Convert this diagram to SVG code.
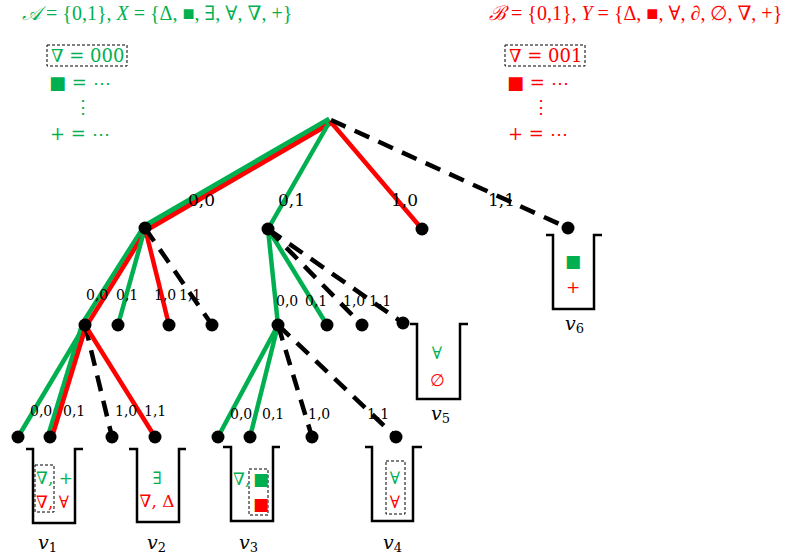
<svg xmlns="http://www.w3.org/2000/svg" width="790" height="559" viewBox="0 0 790 559">
<style>
.g{fill:#00B050}
.r{fill:#FF0000}
.t{font-family:"DejaVu Serif","Liberation Serif",serif}
.h{font-family:"Liberation Serif","DejaVu Serif",serif;font-size:20px}
.hd{font-size:18px}
.lb1{font-size:17px;fill:#000}
.lb2{font-size:14px;fill:#000}
.sym{font-size:17px}
.it{font-style:italic}
.eg{stroke:#00B050;stroke-width:4.5;fill:none}
.eg2{stroke:#00B050;stroke-width:7.5;fill:none}
.er{stroke:#FF0000;stroke-width:4.5;fill:none}
.ed{stroke:#000;stroke-width:4.5;stroke-dasharray:16 10;fill:none}
.dot{fill:#000}
.bk{stroke:#000;stroke-width:2.5;fill:none}
.db{stroke:#000;stroke-width:1;stroke-dasharray:3 2;fill:none}
.vl{font-family:"DejaVu Serif","Liberation Serif",serif;font-style:italic;font-size:19px;fill:#000}
.sub{font-size:13px;font-style:normal}
</style>

<g id="legend-left">
  <text class="h g" x="22" y="20" font-size="20.5"><tspan class="it">𝒜</tspan> = {0,1}, <tspan class="it">X</tspan> = {Δ, ■, ∃, ∀, <tspan class="it">∇</tspan>, +}</text>
  <rect class="db" x="47" y="45" width="80" height="21"/>
  <text class="t hd g" x="51" y="62"><tspan class="it">∇</tspan> = 000</text>
  <text class="t hd g" x="49" y="89">■ = ⋯</text>
  <text class="t hd g" x="74" y="113">⋮</text>
  <text class="t hd g" x="50" y="140">+ = ⋯</text>
</g>

<g id="legend-right">
  <text class="h r" x="489" y="20"><tspan class="it">ℬ</tspan> = {0,1}, <tspan class="it">Y</tspan> = {Δ, ■, ∀, <tspan class="it">∂</tspan>, ∅, <tspan class="it">∇</tspan>, +}</text>
  <rect class="db" x="505" y="45" width="80" height="21"/>
  <text class="t hd r" x="509" y="62"><tspan class="it">∇</tspan> = 001</text>
  <text class="t hd r" x="507" y="89">■ = ⋯</text>
  <text class="t hd r" x="532" y="113">⋮</text>
  <text class="t hd r" x="508" y="140">+ = ⋯</text>
</g>

<g id="connectors">
  <line class="eg2" x1="330" y1="120" x2="145" y2="227"/>
  <line class="er" x1="331" y1="123" x2="147" y2="230"/>
  <line class="eg" x1="330" y1="121" x2="268" y2="229"/>
  <line class="er" x1="330" y1="121" x2="422" y2="229"/>
  <line class="ed" x1="331" y1="120" x2="568" y2="228"/>
  <line class="eg" x1="143" y1="228" x2="82" y2="324"/>
  <line class="er" x1="147" y1="229" x2="87" y2="325"/>
  <line class="eg" x1="145" y1="228" x2="118" y2="325"/>
  <line class="er" x1="145" y1="228" x2="169" y2="325"/>
  <line class="ed" x1="145" y1="228" x2="212" y2="325"/>
  <line class="eg" x1="268" y1="229" x2="278" y2="325"/>
  <line class="eg" x1="268" y1="229" x2="327" y2="325"/>
  <line class="ed" x1="268" y1="229" x2="362" y2="325"/>
  <line class="ed" x1="268" y1="229" x2="403" y2="323"/>
  <line class="eg" x1="85" y1="325" x2="18" y2="437"/>
  <line class="eg" x1="82" y1="325" x2="48" y2="436"/>
  <line class="er" x1="86" y1="326" x2="52" y2="437"/>
  <line class="ed" x1="85" y1="325" x2="112" y2="437"/>
  <line class="er" x1="85" y1="325" x2="155" y2="437"/>
  <line class="eg" x1="278" y1="325" x2="218" y2="437"/>
  <line class="eg" x1="278" y1="325" x2="250" y2="437"/>
  <line class="ed" x1="278" y1="325" x2="312" y2="437"/>
  <line class="ed" x1="278" y1="325" x2="396" y2="437"/>
</g>

<g id="edge-labels">
  <text class="t lb1" x="188" y="206">0,0</text>
  <text class="t lb1" x="278" y="206">0,1</text>
  <text class="t lb1" x="391" y="206">1,0</text>
  <text class="t lb1" x="488" y="206">1,1</text>
  <text class="t lb2" x="86" y="300">0,0</text>
  <text class="t lb2" x="116" y="300">0,1</text>
  <text class="t lb2" x="154" y="300">1,0</text>
  <text class="t lb2" x="179" y="300">1,1</text>
  <text class="t lb2" x="276" y="306">0,0</text>
  <text class="t lb2" x="305" y="306">0,1</text>
  <text class="t lb2" x="343" y="306">1,0</text>
  <text class="t lb2" x="369" y="306">1,1</text>
  <text class="t lb2" x="30" y="416">0,0</text>
  <text class="t lb2" x="63" y="416">0,1</text>
  <text class="t lb2" x="115" y="416">1,0</text>
  <text class="t lb2" x="144" y="416">1,1</text>
  <text class="t lb2" x="230" y="419">0,0</text>
  <text class="t lb2" x="262" y="419">0,1</text>
  <text class="t lb2" x="308" y="419">1,0</text>
  <text class="t lb2" x="367" y="419">1,1</text>
</g>

<g id="nodes">
  <g id="n-A"><circle class="dot" cx="145" cy="228" r="6.5"/></g>
  <g id="n-B"><circle class="dot" cx="268" cy="229" r="6.5"/></g>
  <g id="n-C"><circle class="dot" cx="422" cy="229" r="6.5"/></g>
  <g id="n-D"><circle class="dot" cx="568" cy="228" r="6.5"/></g>
  <g id="n-A1"><circle class="dot" cx="85" cy="325" r="6.5"/></g>
  <g id="n-A2"><circle class="dot" cx="118" cy="325" r="6.5"/></g>
  <g id="n-A3"><circle class="dot" cx="169" cy="325" r="6.5"/></g>
  <g id="n-A4"><circle class="dot" cx="212" cy="325" r="6.5"/></g>
  <g id="n-B1"><circle class="dot" cx="278" cy="325" r="6.5"/></g>
  <g id="n-B2"><circle class="dot" cx="327" cy="325" r="6.5"/></g>
  <g id="n-B3"><circle class="dot" cx="362" cy="325" r="6.5"/></g>
  <g id="n-B4"><circle class="dot" cx="403" cy="323" r="6.5"/></g>
  <g id="n-A1a"><circle class="dot" cx="18" cy="437" r="6.5"/></g>
  <g id="n-A1b"><circle class="dot" cx="50" cy="437" r="6.5"/></g>
  <g id="n-A1c"><circle class="dot" cx="112" cy="437" r="6.5"/></g>
  <g id="n-A1d"><circle class="dot" cx="155" cy="437" r="6.5"/></g>
  <g id="n-B1a"><circle class="dot" cx="218" cy="437" r="6.5"/></g>
  <g id="n-B1b"><circle class="dot" cx="250" cy="437" r="6.5"/></g>
  <g id="n-B1c"><circle class="dot" cx="312" cy="437" r="6.5"/></g>
  <g id="n-B1d"><circle class="dot" cx="396" cy="437" r="6.5"/></g>
</g>

<g id="bucket-v1">
  <path class="bk" d="M26,449 H33 V523 H75 V449 H83"/>
  <rect class="db" x="35" y="465" width="19" height="47"/>
  <text class="t sym g" x="36" y="484"><tspan class="it">∇</tspan>, +</text>
  <text class="t sym r" x="36" y="508"><tspan class="it">∇</tspan>, ∀</text>
  <text class="vl" x="38" y="549">v<tspan class="sub" dy="3">1</tspan></text>
</g>
<g id="bucket-v2">
  <path class="bk" d="M129,449 H137 V522 H179 V449 H186"/>
  <text class="t sym g" x="157" y="484" text-anchor="middle">∃</text>
  <text class="t sym r" x="157" y="507" text-anchor="middle"><tspan class="it">∇</tspan>, Δ</text>
  <text class="vl" x="147" y="549">v<tspan class="sub" dy="3">2</tspan></text>
</g>
<g id="bucket-v3">
  <path class="bk" d="M223,447 H231 V521 H273 V447 H280"/>
  <rect class="db" x="249" y="469" width="19" height="46"/>
  <text class="t sym g" x="233" y="485"><tspan class="it">∇</tspan>,</text>
  <text class="t sym g" x="261" y="485" text-anchor="middle">■</text>
  <text class="t sym r" x="261" y="510" text-anchor="middle">■</text>
  <text class="vl" x="239" y="549">v<tspan class="sub" dy="3">3</tspan></text>
</g>
<g id="bucket-v4">
  <path class="bk" d="M365,447 H372 V521 H413 V447 H422"/>
  <rect class="db" x="386" y="461" width="19" height="53"/>
  <text class="t sym g" x="395" y="484" text-anchor="middle">∀</text>
  <text class="t sym r" x="395" y="508" text-anchor="middle">∀</text>
  <text class="vl" x="383" y="549">v<tspan class="sub" dy="3">4</tspan></text>
</g>
<g id="bucket-v5">
  <path class="bk" d="M410,324 H417 V399 H460 V324 H468"/>
  <text class="t sym g" x="437" y="359" text-anchor="middle">∀</text>
  <text class="t sym r" x="437" y="386" text-anchor="middle">∅</text>
  <text class="vl" x="431" y="420">v<tspan class="sub" dy="3">5</tspan></text>
</g>
<g id="bucket-v6">
  <path class="bk" d="M546,235 H553 V309 H594 V235 H602"/>
  <text class="t sym g" x="573" y="267" text-anchor="middle">■</text>
  <text class="t sym r" x="573" y="293" text-anchor="middle">+</text>
  <text class="vl" x="565" y="330">v<tspan class="sub" dy="3">6</tspan></text>
</g>
</svg>
